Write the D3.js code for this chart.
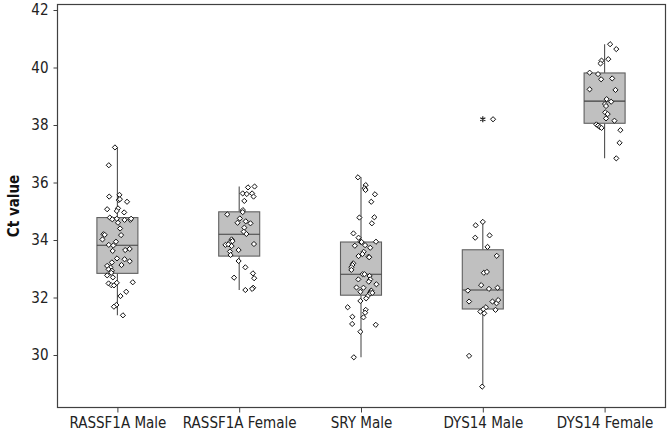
<!DOCTYPE html>
<html><head><meta charset="utf-8">
<script src="https://cdn.jsdelivr.net/npm/d3@7"></script>
<style>
html,body{margin:0;padding:0;background:#fff;}
svg{display:block;}
text{font-family:"DejaVu Sans Condensed","DejaVu Sans",sans-serif;font-stretch:condensed;}
</style></head>
<body>
<div id="chart"></div>
<script>
// ---------- data ----------
const categories = ["RASSF1A Male","RASSF1A Female","SRY Male","DYS14 Male","DYS14 Female"];
const yTicks = [30,32,34,36,38,40,42];
const yLabel = "Ct value";

// box statistics: [lower whisker, Q1, median, Q3, upper whisker]
const boxLow  = [31.38, 32.26, 29.92, 28.90, 36.84];
const boxQ1   = [32.84, 33.44, 32.08, 31.60, 38.06];
const boxMed  = [33.82, 34.20, 32.81, 32.26, 38.83];
const boxQ3   = [34.78, 34.98, 33.93, 33.66, 39.81];
const boxHigh = [37.22, 35.86, 36.18, 34.63, 40.81];
// outliers (category index, value)
const outlierCat = [3];
const outlierVal = [38.20];

// individual Ct values and horizontal jitter (fraction of half box width)
const rassfMaleCt = [37.22,36.60,35.51,35.57,35.39,35.42,35.33,35.07,35.10,35.01,34.96,34.78,34.72,34.74,34.70,34.70,34.74,34.60,34.40,34.20,34.18,34.17,34.02,33.94,33.83,33.81,33.62,33.65,33.69,33.36,33.33,33.26,33.22,33.13,33.10,33.04,32.98,32.93,32.86,32.77,32.70,32.53,32.49,32.43,32.42,32.51,32.20,32.05,31.74,31.68,31.38];
const rassfMaleJit = [-0.12,-0.42,-0.4,0.1,0.07,0.12,0.47,-0.5,0.03,-0.03,0.33,-0.37,-0.25,-0.03,0.35,0.63,0.67,0.03,0.13,-0.68,-0.62,0.18,-0.73,-0.07,-0.42,-0.2,-0.23,0.38,0.6,-0.02,0.35,0.6,-0.27,0.2,-0.5,-0.33,-0.43,-0.27,-0.3,-0.5,-0.22,0.75,-0.43,-0.3,-0.17,-0.03,0.43,0.15,-0.05,-0.17,0.27];

const rassfFemaleCt = [35.83,35.86,35.62,35.60,35.62,35.51,35.36,35.04,34.97,34.89,34.75,34.60,34.65,34.58,34.43,34.29,34.21,34.02,33.94,33.96,33.83,33.85,33.79,33.86,33.65,33.60,33.48,33.27,33.05,32.84,32.69,32.67,32.34,32.30,32.26];
const rassfFemaleJit = [0.43,0.75,0.17,0.37,0.63,0.7,0.25,0.18,0.17,-0.58,0.03,-0.08,0.32,0.55,0.25,0.22,0.35,-0.37,-0.42,-0.33,-0.67,-0.53,-0.37,0.72,-0.03,-0.45,-0.42,-0.03,0.3,0.67,-0.25,0.73,0.68,0.63,0.3];

const sryMaleCt = [36.18,35.91,35.80,35.74,35.59,35.33,34.78,34.79,34.58,34.23,34.08,33.94,33.93,33.94,33.80,33.82,33.73,33.59,33.51,33.44,33.42,33.40,33.19,33.13,33.05,32.96,32.81,32.81,32.75,32.63,32.63,32.46,32.55,32.35,32.34,32.24,32.18,32.12,32.16,32.05,31.97,32.20,31.88,31.66,31.57,31.47,31.33,31.31,31.08,31.05,30.81,29.92];
const sryMaleJit = [-0.15,0.23,0.18,0.22,0.68,0.5,-0.08,0.65,0.53,-0.37,-0.12,-0.02,0.03,0.73,-0.3,0.2,0.45,0.13,0.07,-0.12,0.37,0.4,-0.38,-0.42,-0.47,-0.47,0.08,0.17,0.42,-0.13,0.45,0.75,0.38,-0.22,0.12,0.5,0.45,0.42,0.55,0.33,0.25,-0.03,-0.03,-0.65,0.23,0.2,-0.42,0.12,-0.43,0.72,-0.03,-0.35];

const dysMaleCt = [38.20,34.63,34.51,34.16,34.08,33.76,33.45,32.86,32.89,32.43,32.34,32.30,32.24,31.86,31.86,31.80,31.91,31.57,31.66,31.59,31.51,31.45,29.97,28.90];
const dysMaleJit = [0.5,0,-0.35,0.33,-0.37,0.23,0.68,0.05,0.2,-0.08,0.72,0.3,-0.73,-0.67,0.47,0.67,0.75,0.62,0.15,0.02,-0.12,0.07,-0.67,-0.03];

const dysFemaleCt = [40.81,40.64,40.24,40.14,40.29,39.82,39.77,39.59,39.62,39.24,39.22,38.90,38.81,38.73,38.66,38.44,38.38,38.23,38.15,38.02,37.98,37.93,37.90,37.82,37.38,36.84];
const dysFemaleJit = [0.27,0.57,-0.15,-0.2,0.18,-0.73,-0.32,-0.17,0.37,-0.73,0.53,0.1,0.32,0.02,0.07,0.03,0.15,0.07,0.48,-0.4,-0.32,-0.23,-0.15,0.77,0.73,0.57];

const seriesCt  = [rassfMaleCt, rassfFemaleCt, sryMaleCt, dysMaleCt, dysFemaleCt];
const seriesJit = [rassfMaleJit, rassfFemaleJit, sryMaleJit, dysMaleJit, dysFemaleJit];

// ---------- drawing ----------
const W = 670, H = 432;
const FONT = '"DejaVu Sans Condensed","DejaVu Sans",sans-serif';
const frame = {left: 57.5, right: 665.5, top: 4.5, bottom: 407.5};
const svg = d3.select("#chart").append("svg").attr("width", W).attr("height", H);

const x = d3.scalePoint().domain(categories).range([56.5, 665.5]).padding(0.5);
const y = d3.scaleLinear().domain([30, 42]).range([355, 10]);
const halfBox = 20.5;

// frame
svg.append("rect").attr("x", frame.left).attr("y", frame.top)
  .attr("width", frame.right - frame.left).attr("height", frame.bottom - frame.top)
  .attr("fill", "none").attr("stroke", "#404040").attr("stroke-width", 1.2);

// y axis
const yAxis = d3.axisLeft(y).tickValues(yTicks).tickSize(4).tickPadding(5).tickFormat(d3.format("d"));
const gy = svg.append("g").attr("transform", `translate(${frame.left},0)`).call(yAxis);
gy.select(".domain").remove();
gy.selectAll(".tick line").attr("stroke", "#404040");
gy.selectAll(".tick text").attr("font-size", 15).attr("fill", "#222").style("font-family", FONT);

// x axis
const xAxis = d3.axisBottom(x).tickSize(5).tickPadding(5);
const gx = svg.append("g").attr("transform", `translate(0,${frame.bottom})`).call(xAxis);
gx.select(".domain").remove();
gx.selectAll(".tick line").attr("stroke", "#404040");
gx.selectAll(".tick text").attr("font-size", 15).attr("fill", "#222").style("font-family", FONT);

// y label
svg.append("text").attr("transform", `translate(19,206) rotate(-90)`)
  .attr("text-anchor", "middle").attr("font-size", 15).attr("font-weight", "bold")
  .attr("fill", "#111").style("font-family", FONT).text(yLabel);

// boxes
const boxes = svg.append("g");
categories.forEach((c, i) => {
  const cx = x(c);
  const g = boxes.append("g");
  g.append("line").attr("x1", cx).attr("x2", cx).attr("y1", y(boxHigh[i])).attr("y2", y(boxQ3[i]))
    .attr("stroke", "#505050").attr("stroke-width", 1.1);
  g.append("line").attr("x1", cx).attr("x2", cx).attr("y1", y(boxQ1[i])).attr("y2", y(boxLow[i]))
    .attr("stroke", "#505050").attr("stroke-width", 1.1);
  g.append("rect").attr("x", cx - halfBox).attr("y", y(boxQ3[i]))
    .attr("width", 2 * halfBox).attr("height", y(boxQ1[i]) - y(boxQ3[i]))
    .attr("fill", "#c0c0c0").attr("stroke", "#606060").attr("stroke-width", 1.1);
  g.append("line").attr("x1", cx - halfBox).attr("x2", cx + halfBox)
    .attr("y1", y(boxMed[i])).attr("y2", y(boxMed[i]))
    .attr("stroke", "#404040").attr("stroke-width", 1.1);
});

// outliers as asterisks
const star = d3.symbol().type(d3.symbolAsterisk || d3.symbolCross).size(24);
outlierCat.forEach((ci, k) => {
  svg.append("path").attr("d", star())
    .attr("transform", `translate(${x(categories[ci])},${y(outlierVal[k])})`)
    .attr("fill", "none").attr("stroke", "#222").attr("stroke-width", 1.2);
});

// jittered points (open diamonds)
const diamond = "M0,-2.6L2.6,0L0,2.6L-2.6,0Z";
const pts = svg.append("g");
categories.forEach((c, i) => {
  const cx = x(c);
  pts.selectAll(null).data(seriesCt[i].map((v, k) => ({v, j: seriesJit[i][k]})))
    .enter().append("path")
    .attr("d", diamond)
    .attr("transform", d => `translate(${cx + d.j * halfBox},${y(d.v)})`)
    .attr("fill", "#fff").attr("stroke", "#111").attr("stroke-width", 1);
});
</script>
</body></html>
